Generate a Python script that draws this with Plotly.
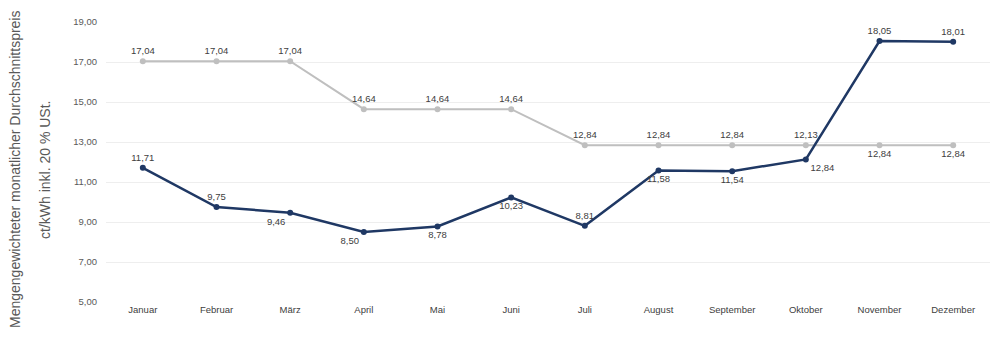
import plotly.graph_objects as go

months = ["Januar", "Februar", "März", "April", "Mai", "Juni", "Juli",
          "August", "September", "Oktober", "November", "Dezember"]
blue_values = [11.71, 9.75, 9.46, 8.50, 8.78, 10.23, 8.81, 11.58, 11.54, 12.13, 18.05, 18.01]
grey_values = [17.04, 17.04, 17.04, 14.64, 14.64, 14.64, 12.84, 12.84, 12.84, 12.84, 12.84, 12.84]
y_ticks = [5, 7, 9, 11, 13, 15, 17, 19]

blue_pos = ["top center", "top center", "bottom left", "bottom left", "bottom center",
            "bottom center", "top center", "bottom center", "bottom center",
            "bottom right", "top center", "top center"]
grey_pos = ["top center"] * 10 + ["bottom center", "bottom center"]


def fmt(v):
    return f"{v:.2f}".replace(".", ",")


blue_text = [fmt(v) for v in blue_values]
grey_text = [fmt(v) for v in grey_values]
# in the reference the October labels are swapped between the series
blue_text[9], grey_text[9] = grey_text[9], blue_text[9]

BLUE = "#1F3864"
GREY = "#BFBFBF"
LABEL_FONT = dict(family="Liberation Sans, Arial, sans-serif", size=9.5, color="#404040")

fig = go.Figure()
fig.add_trace(go.Scatter(
    x=months, y=grey_values, mode="lines+markers+text",
    line=dict(color=GREY, width=2), marker=dict(color=GREY, size=6),
    text=grey_text, textposition=grey_pos, textfont=LABEL_FONT,
    showlegend=False, cliponaxis=False))
fig.add_trace(go.Scatter(
    x=months, y=blue_values, mode="lines+markers+text",
    line=dict(color=BLUE, width=2.5), marker=dict(color=BLUE, size=6),
    text=blue_text, textposition=blue_pos, textfont=LABEL_FONT,
    showlegend=False, cliponaxis=False))

fig.update_layout(
    width=999, height=340,
    margin=dict(l=106, r=9, t=22, b=38),
    plot_bgcolor="white", paper_bgcolor="white",
    separators=",.",
    font=dict(family="Liberation Sans, Arial, sans-serif", color="#404040"),
    xaxis=dict(range=[-0.5, 11.5], showgrid=False, showline=False, zeroline=False,
               ticks="", tickfont=dict(size=9.5, color="#404040")),
    yaxis=dict(range=[5, 19], tickvals=y_ticks, tickformat=".2f",
               showgrid=True, gridcolor="#EEEEEE", gridwidth=1,
               zeroline=False, showline=False, ticks="",
               tickfont=dict(size=9.5, color="#595959"), ticklabelstandoff=8),
    annotations=[
        dict(text="Mengengewichteter monatlicher Durchschnittspreis",
             xref="paper", yref="paper", x=(15 - 106) / 884, y=(302 - 170) / 280,
             xanchor="center", yanchor="middle", textangle=-90, showarrow=False,
             font=dict(size=14, color="#595959")),
        dict(text="ct/kWh inkl. 20 % USt.",
             xref="paper", yref="paper", x=(45 - 106) / 884, y=(302 - 170) / 280,
             xanchor="center", yanchor="middle", textangle=-90, showarrow=False,
             font=dict(size=14, color="#595959")),
    ],
)

fig.write_html("out.html")
